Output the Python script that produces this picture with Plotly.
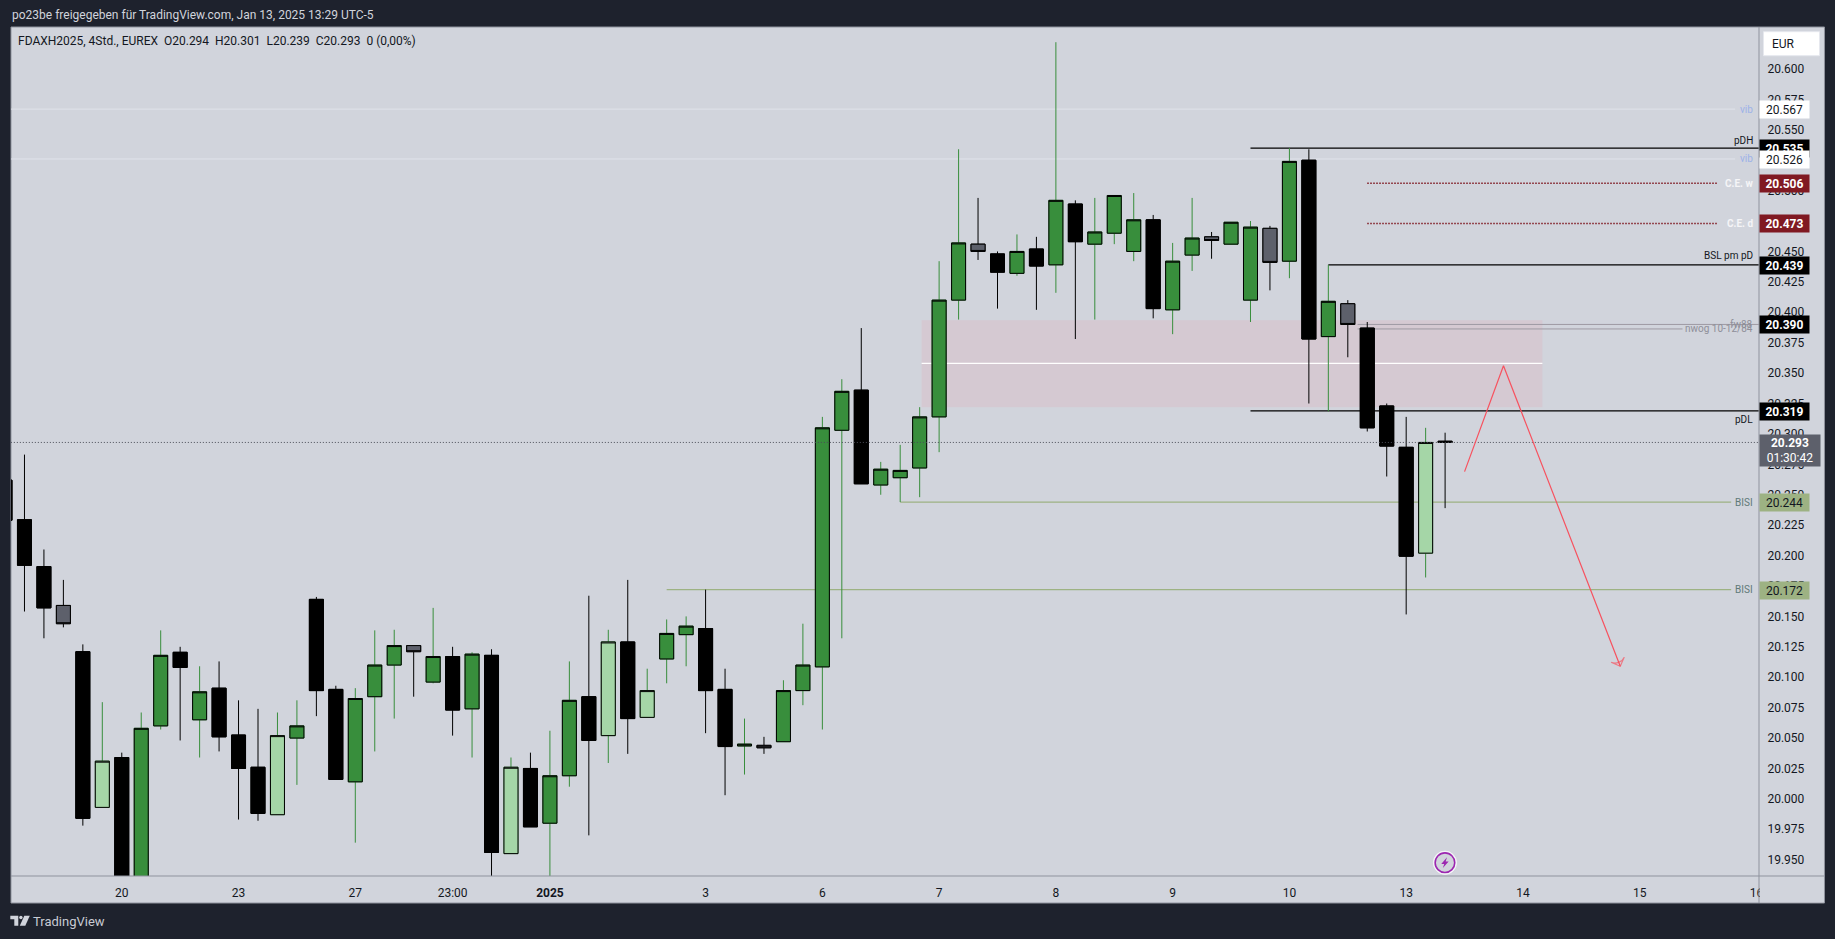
import plotly.graph_objects as go

# ---------- data (index points, EUR) ----------
kinds = ['k','k','k','s','k','l','k','g','g','k','g','k','k','k','l','g','k','k','g','g',
         'g','s','g','k','g','k','l','k','g','g','k','l','k','l','g','g','k','k','g','s',
         'g','g','g','g','k','g','g','g','g','g','s','k','g','k','g','k','g','g','g','k',
         'g','g','s','g','g','s','g','k','g','s','k','k','k','l','k']
tops = [20262,20229.5,20191,20159,20121,20031,20034,20058,20118,20120.5,20088,20091,20052.5,20026,20052,20060,20164,20090,20082.5,20110,
        20126,20126,20117,20117,20119,20118,20026,20025,20019,20081,20084,20129,20129,20089,20136,20142,20140,20090,20045,20044,
        20089,20110,20305,20335,20336,20271,20270,20314,20410,20457,20456,20448,20450,20452,20492,20489,20466,20496,20476,20476,
        20442,20461,20462,20474,20470,20469,20524,20525,20409,20407,20387,20323,20289,20293,20294]
bottoms = [20229,20192,20157,20144,19984,19993,19905,19902,20060,20108,20065,20051,20025,19988,19987,20050,20089,20016,20014,20084,
           20110,20121,20096,20073,20074,19956,19955,19977,19980,20019,20048,20052,20066,20067,20115,20135,20089,20043,20043.5,20042,
           20047,20089,20108.5,20303,20259,20258,20264,20272,20314,20410,20450,20433,20432,20438,20439,20458,20456,20465,20450,20403,
           20402,20447,20459,20456,20410,20441,20442,20378,20380,20390,20305,20290,20199.5,20202,20293]
highs = [20275,20283,20205,20180,20127,20079.5,20038,20071,20138.5,20125,20109,20113,20081,20074,20071,20081,20166,20093,20091,20138.5,
         20139,20126,20157,20125,20120.5,20123,20034,20038,20056,20113,20167,20139,20180,20107,20147.5,20150,20172,20107,20066,20051,
         20097.5,20144,20314,20345,20387,20277,20291,20322,20442,20534,20494,20450,20464,20462,20622,20492,20494,20496,20498,20480,
         20457,20494,20466,20474,20475,20471,20535,20534,20439,20410,20392,20325,20314,20305,20301]
lows = [20220,20154,20132,20141,19978,19993,19895,19895,20057,20048,20034,20039,19983,19982,19987,20011.5,20068,20016,19964,20039,
        20066,20084,20095,20052,20034,19930,19955,19977,19930,20010,19970,20029.5,20037,20067,20095,20109,20054,20003,20020,20037,
        20047,20077,20057,20132,20259,20250,20244,20248,20285,20394,20443,20403,20430,20402,20416,20378,20394,20456,20442,20395,
        20382,20434,20444,20456,20392,20418,20428,20325,20318.5,20363,20302,20265,20151.6,20182,20239]
bar_index = list(range(len(kinds)))

date_ticks = [6,12,18,23,28,36,42,48,54,60,66,72,78,84,90]
date_labels = ['20','23','27','23:00','<b>2025</b>','3','6','7','8','9','10','13','14','15','16']
price_ticks = list(range(19950, 20601, 25))
price_labels = ['19.950','19.975','20.000','20.025','20.050','20.075','20.100','20.125','20.150','20.175',
                '20.200','20.225','20.250','20.275','20.300','20.325','20.350','20.375','20.400','20.425',
                '20.450','20.475','20.500','20.525','20.550','20.575','20.600']

zone_bars = [47.1, 79]
zone_prices = [20322, 20393.4]
zone_mid = 20358
plan_bars = [75, 77, 83]
plan_prices = [20269, 20356, 20109]
last_price = 20293

# price, start bar, end bar, colour, width, dash
levels = [
    (20567, 0, 88.9, '#e0e3eb', 1, 'solid'),
    (20526, 0, 88.9, '#e0e3eb', 1, 'solid'),
    (20535, 64, 91, '#000000', 1.3, 'solid'),
    (20319, 64, 91, '#000000', 1.3, 'solid'),
    (20439, 68, 91, '#000000', 1.3, 'solid'),
    (20506, 70, 88, '#801922', 1.5, '1.5px,1.5px'),
    (20473, 70, 88, '#801922', 1.5, '1.5px,1.5px'),
    (20390, 69.5, 91, '#9e9aa3', 1, 'solid'),
    (20386.3, 69.5, 86.2, '#9e9aa3', 1, 'solid'),
    (20244, 46, 88.7, '#9db283', 1.2, 'solid'),
    (20172, 34, 88.7, '#9db283', 1.2, 'solid'),
]
level_labels = [
    ('vib', 20567, '#9db2e8', 0, False), ('vib', 20526, '#9db2e8', 0, False),
    ('pDH', 20535, '#131722', -8, False), ('pDL', 20319, '#131722', 9, False),
    ('BSL pm pD', 20439, '#131722', -9, False),
    ('C.E. w', 20506, '#f5f5f7', 0, True), ('C.E. d', 20473, '#f5f5f7', 0, True),
    ('nwog 10-12/84', 20386.3, '#8f8f99', 0, False), ('fw88', 20390, '#8f8f99', 0, False),
    ('BISI', 20244, '#5f7a78', 0, False), ('BISI', 20172, '#5f7a78', 0, False),
]
tags = [
    ('20.567', 20567, '#ffffff', '#131722', False),
    ('20.535', 20535, '#000000', '#ffffff', True),
    ('20.526', 20526, '#ffffff', '#131722', False),
    ('20.506', 20506, '#801922', '#ffffff', True),
    ('20.473', 20473, '#801922', '#ffffff', True),
    ('20.439', 20439, '#000000', '#ffffff', True),
    ('20.390', 20390, '#000000', '#ffffff', True),
    ('20.319', 20319, '#000000', '#ffffff', True),
    ('20.244', 20244, '#9db283', '#131722', False),
    ('20.172', 20172, '#9db283', '#131722', False),
]

# ---------- styling / page chrome ----------
DARK, PANE, EDGE = '#1e222d', '#d1d4dc', '#8f939e'
GREEN, LIGHT, GRAY, BLACK = '#388e3c', '#a5d6a7', '#5d606b', '#000000'
FONT = 'Roboto, sans-serif'
L, R, T, B = 10.7, 1759.5, 27.3, 876.3
W, H = 1835, 939
xp = lambda px: (px - L) / (R - L)
yp = lambda py: (B - py) / (B - T)

fill = {'k': BLACK, 'g': GREEN, 'l': LIGHT, 's': GRAY}
wick = {'k': BLACK, 'g': GREEN, 'l': GREEN, 's': BLACK}

fig = go.Figure()
def candles(k, body_only):
    idx = [i for i in bar_index if kinds[i] == k]
    fig.add_trace(go.Candlestick(
        x=idx,
        open=[tops[i] if k in 'ks' else bottoms[i] for i in idx],
        close=[bottoms[i] if k in 'ks' else tops[i] for i in idx],
        high=[tops[i] if body_only else highs[i] for i in idx],
        low=[bottoms[i] if body_only else lows[i] for i in idx],
        increasing=dict(fillcolor=fill[k], line=dict(color=BLACK if body_only else wick[k], width=1)),
        decreasing=dict(fillcolor=fill[k], line=dict(color=BLACK if body_only else wick[k], width=1)),
        showlegend=False, hoverinfo='skip'))
for k in 'kgls':
    candles(k, False)
for k in 'kgls':
    candles(k, True)

# last-price dotted line and the trade-plan arrow sit above the candles
fig.add_trace(go.Scatter(x=[0.3, 90.13], y=[last_price, last_price], mode='lines',
                         line=dict(color='#4a4d58', width=1, dash='1px,2px'), showlegend=False, hoverinfo='skip'))
fig.add_trace(go.Scatter(x=plan_bars, y=plan_prices, mode='lines+markers',
                         line=dict(color='#f7525f', width=1.2),
                         marker=dict(symbol='arrow-wide-open', size=[0, 0, 10], angleref='previous', color='#f7525f',
                                     line=dict(color='#f7525f', width=1.2)),
                         showlegend=False, hoverinfo='skip'))

def page_rect(x0, y0, x1, y1, color, layer='below', line=None):
    return dict(type='rect', xref='paper', yref='paper', x0=xp(x0), x1=xp(x1), y0=yp(y1), y1=yp(y0),
                fillcolor=color, line=dict(width=1 if line else 0, color=line or color), layer=layer)
def page_line(x0, y0, x1, y1, color, layer='above'):
    return dict(type='line', xref='paper', yref='paper', x0=xp(x0), x1=xp(x1), y0=yp(y0), y1=yp(y1),
                line=dict(color=color, width=1), layer=layer)
def page_path(points, color, layer='above'):
    p = 'M ' + ' L '.join(f'{xp(a):.5f} {yp(b):.5f}' for a, b in points) + ' Z'
    return dict(type='path', xref='paper', yref='paper', path=p, fillcolor=color, line=dict(width=0), layer=layer)
def page_circle(cx, cy, r, color, line, lw, layer='above'):
    return dict(type='circle', xref='paper', yref='paper', x0=xp(cx-r), x1=xp(cx+r), y0=yp(cy+r), y1=yp(cy-r),
                fillcolor=color, line=dict(color=line, width=lw), layer=layer)

shapes = [page_rect(10.7, 27.3, 1825, 903.3, PANE, line=EDGE)]
# supply zone + level lines drawn behind the candles, through the chart's scales
shapes.append(dict(type='rect', xref='x', yref='y', x0=zone_bars[0], x1=zone_bars[1], y0=zone_prices[0], y1=zone_prices[1],
                   fillcolor='#d5c9d2', line=dict(width=0), layer='below'))
shapes.append(dict(type='line', xref='x', yref='y', x0=zone_bars[0], x1=zone_bars[1], y0=zone_mid, y1=zone_mid,
                   line=dict(color='#ffffff', width=1.2), layer='below'))
for price, b0, b1, col, lw, dash in levels:
    shapes.append(dict(type='line', xref='x', yref='y', x0=b0, x1=b1, y0=price, y1=price,
                       line=dict(color=col, width=lw, dash=dash), layer='below'))
shapes += [
    page_rect(1760.5, 877.5, 1824, 902.5, PANE, layer='above'),
    page_line(10.7, 876.3, 1825, 876.3, EDGE),
    page_line(1759.5, 27.3, 1759.5, 903.3, EDGE),
    # EUR button
    page_rect(1764, 32, 1820, 56, '#ffffff', layer='above', line='#e6e8ee'),
    # lightning icon
    page_circle(1445.3, 863, 11.6, '#f4f4f8', '#f4f4f8', 1),
    page_circle(1445.3, 863, 9.8, PANE, '#9c27b0', 1.6),
    page_path([(1447.4,857.6),(1441.6,864.2),(1444.6,864.2),(1443.2,868.4),(1449,861.8),(1446,861.8)], '#9c27b0'),
    # TradingView logo
    page_path([(10,916),(18,916),(18,926),(14,926),(14,919.6),(10,919.6)], '#d1d4dc'),
    page_circle(20.6, 917.8, 1.7, '#d1d4dc', '#d1d4dc', 0),
    page_path([(24,916),(29.5,916),(25,926),(19.5,926)], '#d1d4dc'),
]

anns = []
def text(px, py, s, size, color, anchor='left', weight=None):
    anns.append(dict(xref='paper', yref='paper', x=xp(px), y=yp(py), text=s, showarrow=False, xanchor=anchor, yanchor='middle',
                     font=dict(family=FONT, size=size, color=color, weight=weight)))
text(10, 15, 'po23be freigegeben für TradingView.com, Jan 13, 2025 13:29 UTC-5', 12, '#d1d4dc')
text(15.5, 41.7, 'FDAXH2025, 4Std., EUREX&nbsp;&nbsp;O20.294&nbsp;&nbsp;H20.301&nbsp;&nbsp;L20.239&nbsp;&nbsp;C20.293&nbsp;&nbsp;0 (0,00%)', 12, '#131722')
text(31, 921.7, 'TradingView', 13, '#c8cbd3')
text(1771, 44, 'EUR', 12, '#131722')

for s, price, col, shift, bold in level_labels:
    anns.append(dict(xref='paper', yref='y', x=xp(1755.5), y=price, text=s, showarrow=False, xanchor='right', yanchor='middle',
                     yshift=-shift, bgcolor=PANE if s in ('vib', 'BISI', 'C.E. w', 'C.E. d') else None,
                     font=dict(family=FONT, size=10, color=col, weight='bold' if bold else None)))
for s, price, bg, fg, bold in tags:
    anns.append(dict(xref='paper', yref='y', x=xp(1759.5), y=price, text=s, showarrow=False, xanchor='left', yanchor='middle',
                     yshift=-0.5, width=49, height=17, bgcolor=bg, borderpad=0, align='center',
                     font=dict(family=FONT, size=12, color=fg, weight='bold' if bold else None)))
anns.append(dict(xref='paper', yref='y', x=xp(1759.5), y=last_price, text='<b>20.293</b><br>01:30:42', showarrow=False,
                 xanchor='left', yanchor='top', yshift=8, width=60, height=31, bgcolor=GRAY, borderpad=0, align='center',
                 font=dict(family=FONT, size=12, color='#ffffff')))

fig.update_layout(
    width=W, height=H, autosize=False,
    margin=dict(l=L, r=W - R, t=T, b=H - B, pad=0),
    paper_bgcolor=DARK, plot_bgcolor=PANE,
    boxmode='overlay', boxgap=0.28, boxgroupgap=0,
    hovermode=False, dragmode=False,
    shapes=shapes, annotations=anns,
    font=dict(family=FONT, size=12, color='#131722'),
    xaxis=dict(range=[0.308, 90.13], tickmode='array', tickvals=date_ticks, ticktext=date_labels,
               showgrid=False, zeroline=False, showline=False, ticks='outside', ticklen=6, tickcolor='rgba(0,0,0,0)',
               rangeslider=dict(visible=False), tickfont=dict(family=FONT, size=12, color='#131722')),
    yaxis=dict(range=[19936.6, 20634.5], side='right', tickmode='array', tickvals=price_ticks, ticktext=price_labels,
               showgrid=False, zeroline=False, showline=False, ticks='outside', ticklen=5, tickcolor='rgba(0,0,0,0)',
               tickfont=dict(family=FONT, size=12, color='#131722')),
)
fig.write_html('out.html', config=dict(displayModeBar=False),
               post_script="document.body.style.margin='0';document.documentElement.style.background='#1e222d';document.body.style.overflow='hidden';")
